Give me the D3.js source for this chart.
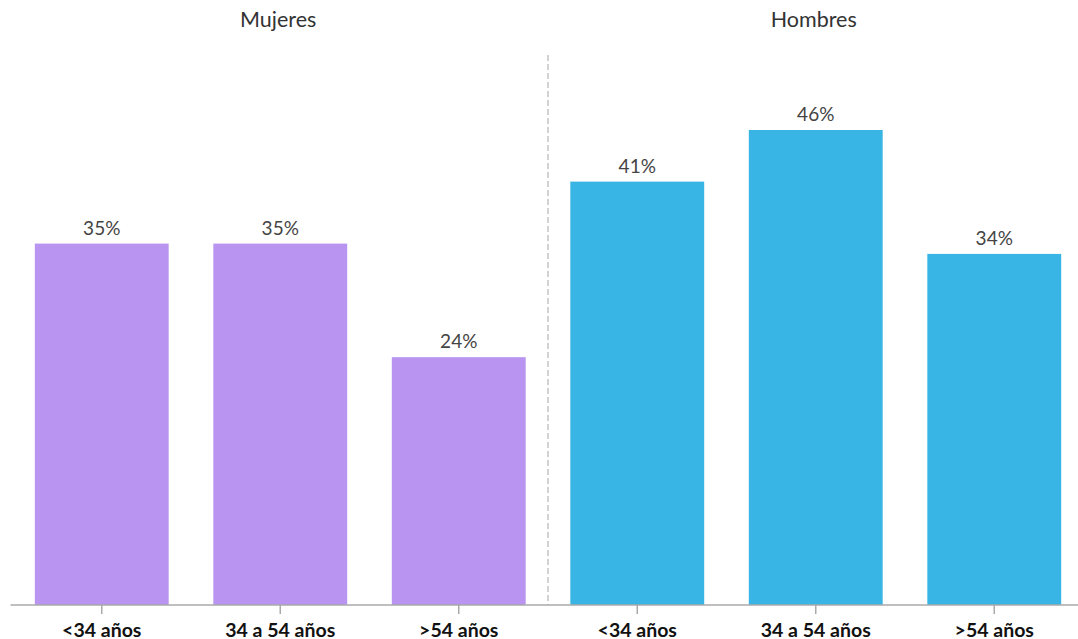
<!DOCTYPE html>
<html><head><meta charset="utf-8">
<script src="https://cdn.jsdelivr.net/npm/d3@7"></script>
<style>body{margin:0;background:#fff;} svg{display:block;}</style>
</head><body>
<svg id="c" width="1078" height="639"></svg>
<script>
const groups = ["Mujeres", "Hombres"];
const ageLabels = ["<34 años", "34 a 54 años", ">54 años"];
const mujeres = [35, 35, 24];
const hombres = [41, 46, 34];
const colors = ["#b995f1", "#38b5e4"];

const rows = [];
[mujeres, hombres].forEach((vals, g) => vals.forEach((v, i) => rows.push({key: g + "-" + i, group: g, label: ageLabels[i], value: v})));

const svg = d3.select("#c");
const W = 1078, baseY = 605;
const x = d3.scaleBand().domain(rows.map(d => d.key)).range([12.5, 1083.5]).paddingInner(0.25).paddingOuter(0.125);
const y = d3.scaleLinear().domain([0, 46]).range([baseY, 130]);
const font = "'Source Sans Pro', Lato, 'Noto Sans', sans-serif";

// divider
const midX = (x(rows[2].key) + x.bandwidth() + x(rows[3].key)) / 2;
svg.append("line").attr("x1", midX).attr("x2", midX).attr("y1", 55).attr("y2", baseY)
  .attr("stroke", "#c4c4c4").attr("stroke-width", 1.5).attr("stroke-dasharray", "6,3");

// bars
svg.selectAll("rect.bar").data(rows).join("rect").attr("class", "bar")
  .attr("x", d => x(d.key)).attr("width", x.bandwidth())
  .attr("y", d => y(d.value)).attr("height", d => y(0) - y(d.value))
  .attr("fill", d => colors[d.group]);

// value labels
svg.selectAll("text.val").data(rows).join("text").attr("class", "val")
  .attr("x", d => x(d.key) + x.bandwidth() / 2).attr("y", d => y(d.value) - 9)
  .attr("text-anchor", "middle").attr("font-family", font).attr("font-size", 19)
  .attr("fill", "#444").text(d => d.value + "%");

// axis
const axis = d3.axisBottom(x).tickSize(9).tickSizeOuter(0).tickFormat(k => rows.find(r => r.key === k).label);
const ax = svg.append("g").attr("transform", `translate(0,${baseY})`).call(axis);
ax.select(".domain").attr("stroke", "#aaa").attr("stroke-width", 1.5).attr("d", `M10.5,0H${W}`);
ax.selectAll(".tick line").attr("stroke", "#aaa").attr("stroke-width", 1.5);
ax.selectAll(".tick text").attr("font-family", font).attr("font-size", 19.5).attr("font-weight", "bold")
  .attr("fill", "#111").attr("dy", 0).attr("y", 31.5);

// group titles
groups.forEach((g, gi) => {
  const first = rows[gi * 3], last = rows[gi * 3 + 2];
  const cx = (x(first.key) + x(last.key) + x.bandwidth()) / 2;
  svg.append("text").attr("x", cx - 2).attr("y", 27).attr("text-anchor", "middle")
    .attr("font-family", font).attr("font-size", 21.5).attr("fill", "#333").text(g);
});
</script>
</body></html>
